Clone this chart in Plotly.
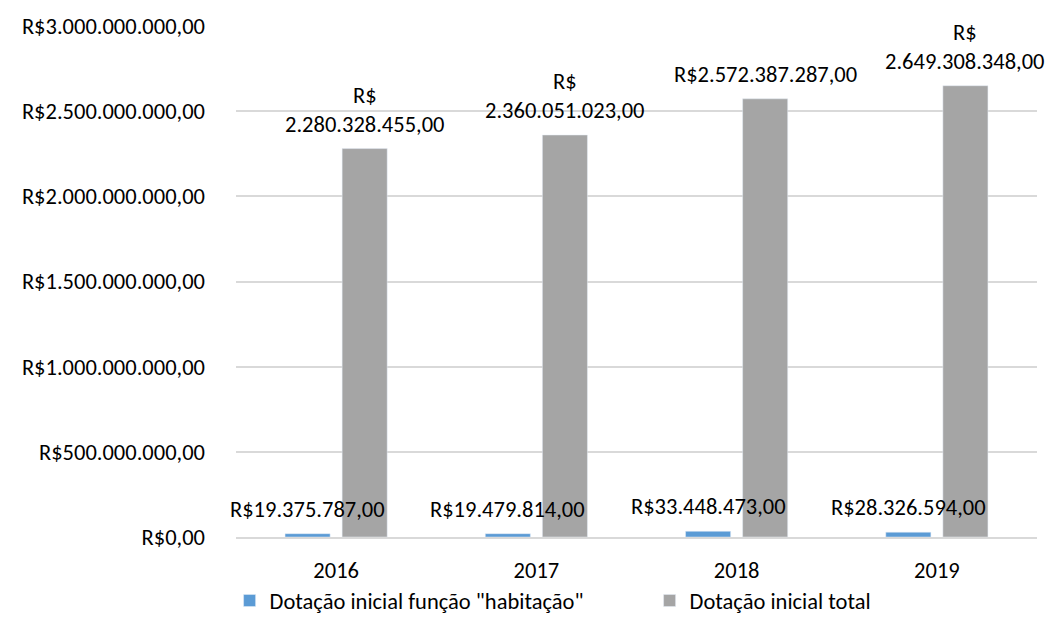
import plotly.graph_objects as go

years = ["2016", "2017", "2018", "2019"]
habitacao = [19375787.00, 19479814.00, 33448473.00, 28326594.00]
total = [2280328455.00, 2360051023.00, 2572387287.00, 2649308348.00]
total_label_wrap = [True, True, False, True]
tick_vals = [0, 500e6, 1000e6, 1500e6, 2000e6, 2500e6, 3000e6]

series_names = ['Dotação inicial função "habitação"', "Dotação inicial total"]
colors = ["#5B9BD5", "#A5A5A5"]


def brl(v, prefix="R$"):
    s = f"{v:,.2f}"  # 1,234.56
    s = s.replace(",", "X").replace(".", ",").replace("X", ".")
    return prefix + s


tick_text = [brl(v) if v else "R$0,00" for v in tick_vals]
hab_text = [brl(v) for v in habitacao]
tot_text = [("R$<br>" + brl(v, "")) if w else brl(v) for v, w in zip(total, total_label_wrap)]

FONT = "Calibri, Carlito, Lato, sans-serif"
FS = 22.5
BAR_W = 0.225
HAB_OFF = -0.255
TOT_OFF = 0.03
L, R, T, B = 236, 16, 26, 90
W, H = 1053, 627

fig = go.Figure()
# total drawn first so the habitação labels sit on top of the grey bars
fig.add_trace(go.Bar(x=years, y=total, name=series_names[1], marker_color=colors[1],
                     width=BAR_W, offset=TOT_OFF, cliponaxis=False))
fig.add_trace(go.Bar(x=years, y=habitacao, name=series_names[0], marker_color=colors[0],
                     width=BAR_W, offset=HAB_OFF, cliponaxis=False))

annotations = []
for i, (v, t) in enumerate(zip(total, tot_text)):
    annotations.append(dict(x=i + TOT_OFF + BAR_W / 2, y=v, text=t, showarrow=False,
                            xanchor="center", yanchor="bottom", yshift=9,
                            font=dict(size=FS, color="#000000")))
for i, (v, t) in enumerate(zip(habitacao, hab_text)):
    annotations.append(dict(x=i + HAB_OFF + BAR_W / 2, y=v, text=t, showarrow=False,
                            xanchor="center", yanchor="bottom", yshift=9,
                            font=dict(size=FS, color="#000000")))

fig.update_layout(
    width=W, height=H,
    margin=dict(l=L, r=R, t=T, b=B, autoexpand=False),
    paper_bgcolor="white", plot_bgcolor="white",
    font=dict(family=FONT, size=FS, color="#000000"),
    barmode="overlay",
    showlegend=True,
    annotations=annotations,
    legend=dict(orientation="h", x=-0.008, xanchor="left",
                y=-0.125, yanchor="middle",
                font=dict(size=FS), itemwidth=30, traceorder="reversed",
                entrywidth=375, entrywidthmode="pixels"),
    xaxis=dict(type="category", range=[-0.5, len(years) - 0.5], showgrid=False,
               showline=True, linecolor="#D9D9D9", linewidth=1.5, ticks="",
               ticklabelstandoff=12, tickfont=dict(size=FS), automargin=False),
    yaxis=dict(range=[0, 3e9], tickvals=tick_vals, ticktext=tick_text,
               showgrid=True, gridcolor="#D9D9D9", gridwidth=1.5, zeroline=False,
               showline=False, ticks="", ticklabelstandoff=30, tickfont=dict(size=FS),
               automargin=False),
)

fig.write_html("out.html", config={"displayModeBar": False},
               post_script="document.body.style.margin='0';document.body.style.overflow='hidden';")
